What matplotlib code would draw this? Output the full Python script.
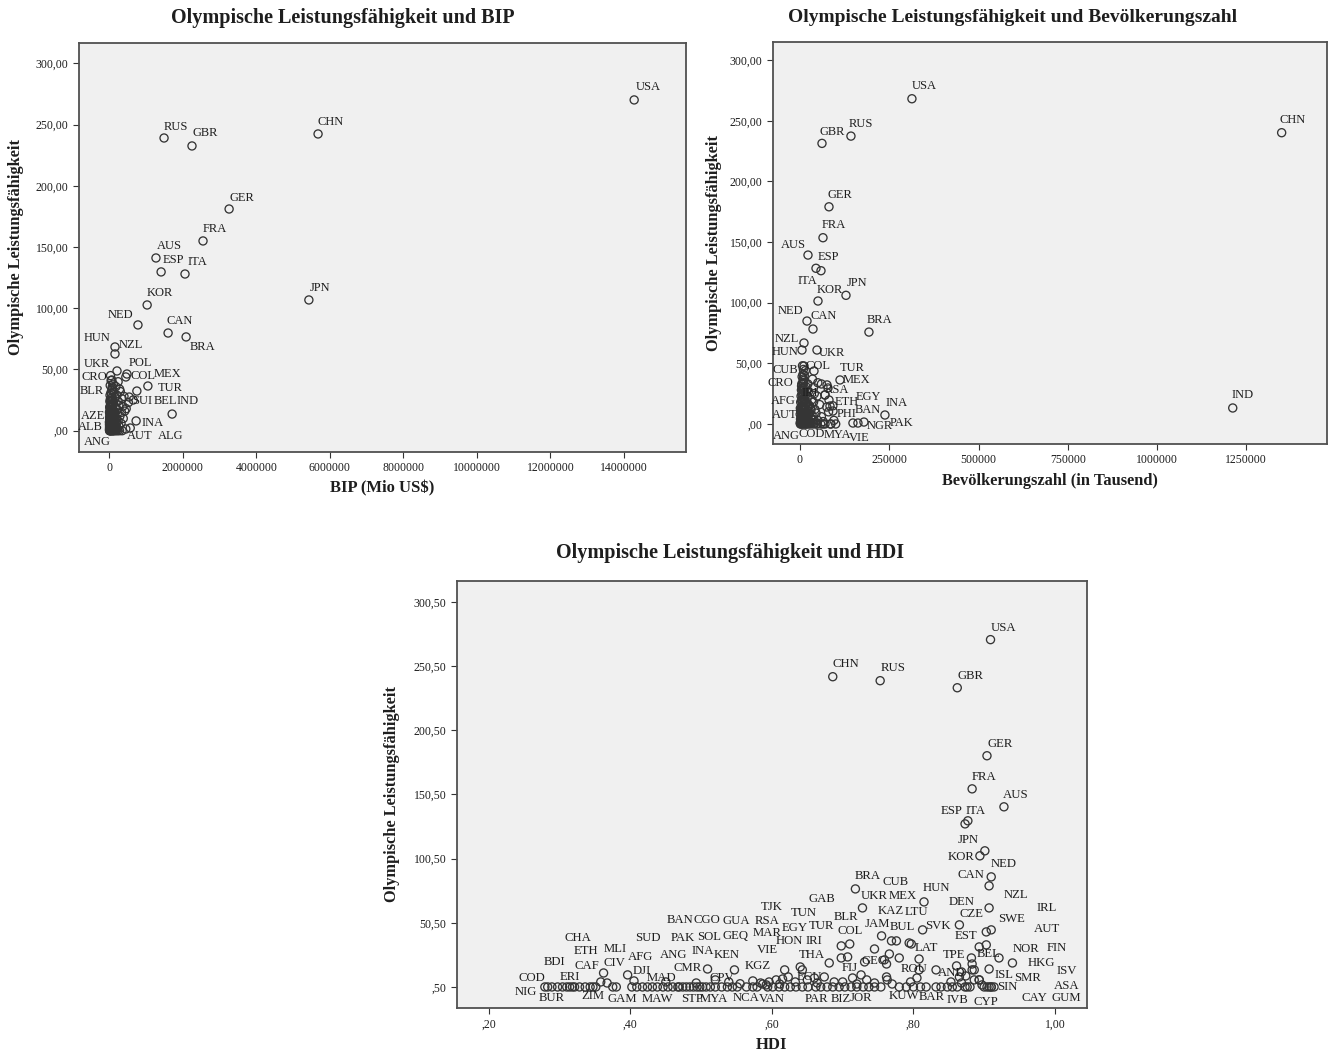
import matplotlib
matplotlib.use("Agg")
import matplotlib.pyplot as plt
from matplotlib.ticker import FuncFormatter, FixedLocator

plt.rcParams['font.family'] = ['Liberation Serif', 'DejaVu Serif']

# ---------------- DATA ----------------
# Panel 1: GDP (Mio US$) vs olympic performance
bip_names = ["USA", "CHN", "RUS", "GBR", "GER", "FRA", "AUS", "ESP", "ITA", "JPN", "KOR", "NED",
             "CAN", "BRA", "HUN", "NZL", "UKR", "POL", "COL", "MEX", "TUR", "CRO", "BLR", "SUI",
             "BEL", "IND", "INA", "AUT", "ALG", "AZE", "ALB", "ANG"]
bip_values = [14280000, 5680000, 1490000, 2250000, 3260000, 2550000, 1270000, 1410000, 2060000,
              5430000, 1030000, 780000, 1600000, 2090000, 155000, 155000, 210000, 480000, 450000,
              1050000, 750000, 70000, 80000, 540000, 650000, 1710000, 730000, 450000, 570000,
              160000, 80000, 100000]
bip_scores = [270.2, 242.4, 239.1, 232.6, 181.1, 155.0, 141.1, 129.7, 128.0, 106.8, 102.7, 86.4,
              79.8, 76.6, 68.4, 62.7, 48.8, 46.3, 43.9, 36.5, 32.4, 41.4, 35.7, 27.5, 25.1, 13.6,
              8.0, 1.4, 2.2, 15.3, 2.2, 0.0]
bip_other_values = [8000, 15000, 25000, 35000, 50000, 70000, 95000, 120000, 150000, 190000, 230000,
                    280000, 350000, 10000, 30000, 55000, 85000, 140000, 210000, 260000, 5000, 22000,
                    45000, 75000, 110000, 170000, 240000, 320000, 12000, 38000, 65000, 100000,
                    135000, 200000, 290000, 380000, 18000, 50000, 90000, 150000, 220000, 330000,
                    420000, 28000, 70000, 120000, 180000, 260000, 370000, 460000, 40000, 95000,
                    160000, 240000, 350000, 60000, 130000, 210000, 300000, 400000, 520000, 80000,
                    180000, 280000, 110000, 240000,
                    4000, 16000, 28000, 40000, 62000, 88000, 110000, 135000, 175000, 205000,
                    7000, 19000, 33000, 48000, 66000, 92000, 125000, 160000, 195000,
                    3000, 14000, 26000, 37000, 52000, 68000, 85000, 105000, 128000, 155000, 190000,
                    9000, 21000, 34000, 46000, 60000, 78000, 96000, 118000, 145000,
                    6000, 18000, 31000, 44000, 58000, 76000, 102000, 130000,
                    11000, 24000, 40000, 55000, 85000, 15000, 32000, 52000, 74000,
                    20000, 44000, 68000, 25000, 50000, 35000]
bip_other_scores = [0, 0, 0, 0, 0, 0, 0, 0, 0, 0, 0, 0, 0, 2, 2, 3, 2, 3, 2, 4, 5, 6, 5, 7, 6, 5, 8,
                    6, 9, 10, 11, 9, 12, 10, 12, 10, 14, 15, 16, 14, 17, 15, 16, 19, 20, 22, 19, 21,
                    20, 18, 24, 25, 27, 24, 26, 30, 31, 29, 32, 28, 23, 34, 36, 34, 38, 40,
                    1, 1, 1, 1, 1, 1, 1, 1, 1, 1,
                    3, 4, 3, 4, 3, 4, 3, 4, 3,
                    7, 8, 7, 8, 7, 8, 7, 8, 7, 8, 7,
                    11, 12, 11, 12, 11, 12, 11, 12, 11,
                    15, 16, 15, 17, 16, 15, 17, 16,
                    19, 20, 21, 19, 22, 24, 26, 24, 27,
                    29, 31, 33, 37, 41, 45]

# Panel 2: population (thousands)
pop_names = ["USA", "CHN", "IND", "RUS", "GBR", "GER", "FRA", "AUS", "ESP", "ITA", "JPN", "KOR",
             "NED", "CAN", "BRA", "NZL", "HUN", "UKR", "CUB", "COL", "TUR", "MEX", "CRO", "RSA",
             "IRI", "EGY", "ETH", "PHI", "INA", "BAN", "NGR", "PAK", "AFG", "AUT", "ANG", "COD",
             "MYA", "VIE"]
pop_values = [313500, 1349000, 1212000, 142700, 61600, 81200, 64400, 22400, 44800, 58800, 128800,
              50400, 19600, 36400, 193100, 11200, 5600, 47600, 11200, 39200, 75600, 112000, 4400,
              78400, 70000, 81200, 84000, 92400, 237900, 148300, 162300, 179100, 30800, 8400,
              16800, 64400, 47600, 86800]
pop_scores = [268.2, 240.2, 13.2, 237.4, 231.4, 179.1, 153.6, 139.3, 128.4, 126.4, 106.1, 101.4,
              84.9, 78.3, 75.8, 66.8, 61.0, 61.0, 47.8, 43.7, 32.2, 36.3, 31.3, 29.7, 23.9, 19.8,
              14.8, 10.7, 7.4, 0.8, 0.8, 1.6, 11.5, 4.9, 0.0, 0.0, 0.0, 0.0]
pop_other_values = [1000, 3000, 6000, 9000, 13000, 18000, 24000, 30000, 38000, 47000, 58000, 70000,
                    85000, 100000, 2000, 7000, 12000, 20000, 28000, 36000, 50000, 65000, 95000,
                    4000, 10000, 16000, 25000, 34000, 45000, 60000, 3000, 8000, 14000, 22000,
                    30000, 42000, 80000, 5000, 11000, 18000, 27000, 38000, 55000, 75000, 6000,
                    12000, 20000, 33000, 48000, 92000, 7000, 14000, 24000, 40000, 70000, 8000,
                    16000, 10000, 22000, 38000, 60000, 9000, 12000, 15000, 35000, 50000,
                    500, 2500, 4500, 7000, 10000, 15000, 21000, 27000, 34000, 42000,
                    1500, 4000, 6500, 9000, 13000, 17000, 23000, 31000,
                    500, 3000, 5500, 8000, 11000, 15000, 19000, 26000,
                    1000, 3500, 6000, 9500, 13000, 17000, 23000,
                    2000, 4500, 7500, 10000, 14000, 20000,
                    3000, 5500, 8500, 11000, 16000,
                    4000, 6500, 9000, 12000,
                    5000, 7500, 10500, 6000, 8500, 9500, 7000]
pop_other_scores = [0, 0, 0, 0, 0, 0, 0, 0, 0, 0, 0, 0, 0, 0, 3, 2, 4, 3, 2, 4, 3, 2, 3, 6, 7, 6,
                    8, 7, 9, 6, 10, 11, 12, 11, 13, 12, 10, 15, 16, 17, 15, 18, 16, 14, 20, 21, 22,
                    20, 23, 15, 25, 26, 27, 25, 24, 30, 31, 34, 33, 30, 33, 37, 40, 44, 37, 34,
                    1, 1, 1, 1, 1, 1, 1, 1, 1, 1,
                    4, 5, 4, 5, 4, 5, 4, 5,
                    8, 9, 8, 9, 8, 9, 8, 9,
                    13, 12, 13, 14, 13, 12, 14,
                    18, 19, 18, 20, 19, 18,
                    23, 24, 23, 25, 24,
                    28, 29, 28, 30,
                    33, 34, 36, 39, 41, 45, 48]

# Panel 3: HDI
hdi_names = ["USA", "CHN", "RUS", "GBR", "GER", "FRA", "AUS", "ESP", "ITA", "JPN", "KOR", "NED",
             "CAN", "BRA", "UKR", "HUN", "NZL", "JAM", "MEX", "BUL", "KAZ", "LTU", "SVK", "DEN",
             "CZE", "EST", "CUB", "LAT", "COL", "BLR", "TUR", "IRI", "THA", "GEO", "FIJ", "ECU",
             "EGY", "HON", "VIE", "MAR", "RSA", "TUN", "GAB", "TJK", "KGZ", "GEQ", "GUA", "KEN",
             "INA", "CIV", "CAF", "AFG", "NIG", "BUR", "COD", "BDI", "ERI", "CHA", "ETH", "ZIM",
             "MLI", "GAM", "DJI", "SUD", "MAW", "MAD", "ANG", "BAN", "PAK", "CMR", "STP", "CGO",
             "SOL", "MYA", "CPV", "NCA", "VAN", "PAR", "BIZ", "JOR", "KUW", "ROU", "BAR", "AND",
             "TPE", "BEL", "IVB", "CYP", "ISL", "SIN", "NOR", "SWE", "HKG", "FIN", "IRL", "AUT",
             "ISV", "SMR", "ASA", "CAY", "GUM"]
hdi_values = [0.909, 0.686, 0.753, 0.862, 0.904, 0.883, 0.928, 0.873, 0.877, 0.901, 0.894, 0.910,
              0.907, 0.718, 0.728, 0.815, 0.907, 0.755, 0.769, 0.776, 0.794, 0.797, 0.813, 0.865,
              0.903, 0.893, 0.745, 0.808, 0.710, 0.698, 0.681, 0.707, 0.698, 0.731, 0.714, 0.640,
              0.643, 0.618, 0.606, 0.615, 0.623, 0.660, 0.674, 0.584, 0.587, 0.573, 0.537, 0.547,
              0.509, 0.362, 0.358, 0.396, 0.279, 0.289, 0.297, 0.304, 0.314, 0.321, 0.328, 0.343,
              0.351, 0.375, 0.409, 0.417, 0.431, 0.446, 0.453, 0.460, 0.467, 0.474, 0.484, 0.494,
              0.502, 0.520, 0.529, 0.564, 0.594, 0.662, 0.695, 0.729, 0.780, 0.832, 0.832, 0.865,
              0.882, 0.883, 0.862, 0.904, 0.907, 0.897, 0.940, 0.893, 0.886, 0.921, 0.910, 0.903,
              0.910, 0.886, 0.914, 0.900, 0.907]
hdi_scores = [271.2, 242.3, 239.2, 233.7, 180.7, 154.9, 140.9, 127.6, 130.0, 106.6, 102.7, 86.3,
              79.3, 76.9, 62.1, 66.8, 62.1, 40.3, 36.4, 36.4, 34.8, 34.0, 45.0, 48.9, 43.4, 31.7,
              30.1, 22.3, 34.0, 32.5, 19.2, 23.9, 23.1, 20.0, 7.5, 16.1, 13.8, 13.8, 6.0, 6.7, 8.3,
              7.5, 8.3, 3.6, 2.8, 5.2, 0.5, 13.8, 14.5, 11.4, 4.4, 9.9, 0.5, 0.5, 0.5, 0.5, 0.5,
              0.5, 0.5, 0.5, 0.5, 0.5, 0.5, 0.5, 0.5, 0.5, 0.5, 0.5, 0.5, 0.5, 0.5, 0.5, 0.5, 0.5,
              0.5, 0.5, 0.5, 0.5, 0.5, 0.5, 0.5, 13.8, 0.5, 8.3, 23.1, 18.4, 0.5, 0.5, 14.5, 2.1,
              19.2, 6.0, 13.8, 23.1, 45.0, 33.3, 0.5, 6.0, 0.5, 0.5, 0.5]
hdi_other_values = [0.766, 0.780, 0.759, 0.762, 0.726, 0.734, 0.762, 0.763, 0.839, 0.868, 0.883,
                    0.893, 0.910, 0.861, 0.808, 0.688, 0.592, 0.573,
                    0.283, 0.310, 0.318, 0.336, 0.347, 0.380, 0.402, 0.424, 0.438, 0.469, 0.479,
                    0.489, 0.498, 0.507, 0.513, 0.544, 0.551, 0.579, 0.601, 0.610, 0.618, 0.626,
                    0.634, 0.643, 0.651, 0.669, 0.678, 0.686, 0.703, 0.712, 0.720, 0.737, 0.745,
                    0.754, 0.790, 0.800, 0.810, 0.818, 0.848, 0.855, 0.873, 0.876, 0.880,
                    0.555, 0.596, 0.611, 0.633, 0.650, 0.664, 0.700, 0.720, 0.745, 0.770, 0.796,
                    0.805, 0.853, 0.868, 0.874, 0.367, 0.405, 0.450, 0.493, 0.520, 0.539]
hdi_other_scores = [26.2, 23.1, 21.6, 18.4, 9.9, 6.0, 8.3, 6.0, 0.5, 12.2, 13.8, 6.0, 0.5, 16.9,
                    13.8, 4.4, 2.1, 0.5,
                    0.5, 0.5, 0.5, 0.5, 0.5, 0.5, 0.5, 0.5, 0.5, 0.5, 0.5, 0.5, 0.5, 0.5, 0.5, 0.5,
                    0.5, 0.5, 0.5, 0.5, 0.5, 0.5, 0.5, 0.5, 0.5, 0.5, 0.5, 0.5, 0.5, 0.5, 0.5, 0.5,
                    0.5, 0.5, 0.5, 0.5, 0.5, 0.5, 0.5, 0.5, 0.5, 0.5, 0.5,
                    3.0, 4.4, 2.8, 4.4, 6.0, 3.6, 4.4, 2.8, 3.6, 2.8, 4.4, 7.5, 4.4, 3.6, 9.1, 3.6,
                    5.2, 4.4, 3.6, 6.0, 4.4]

# ---------------- LAYOUT (label offsets in pixels) ----------------
bip_offsets = {"USA": (14, 13), "CHN": (13, 12), "RUS": (12, 11), "GBR": (13, 13), "GER": (13, 11),
               "FRA": (12, 12), "AUS": (13, 12), "ESP": (12, 12), "ITA": (12, 12), "JPN": (11, 12),
               "KOR": (13, 12), "NED": (-17, 10), "CAN": (12, 12), "BRA": (16, -10), "HUN": (-18, 9),
               "NZL": (16, 9), "UKR": (-20, 7), "POL": (13, 11), "COL": (17, 1), "MEX": (20, 12),
               "TUR": (33, 3), "CRO": (-17, 3), "BLR": (-20, -4), "SUI": (13, -4), "BEL": (32, -1),
               "IND": (15, 13), "INA": (16, -2), "AUT": (14, -7), "ALG": (40, -8), "AZE": (-22, -4),
               "ALB": (-22, 1), "ANG": (-16, -11)}
pop_offsets = {"USA": (12, 13), "CHN": (11, 13), "IND": (10, 13), "RUS": (10, 12), "GBR": (10, 11),
               "GER": (11, 12), "FRA": (11, 13), "AUS": (-15, 10), "ESP": (12, 11), "ITA": (-14, -10),
               "JPN": (11, 12), "KOR": (12, 11), "NED": (-17, 10), "CAN": (11, 13), "BRA": (11, 12),
               "NZL": (-17, 4), "HUN": (-17, -2), "UKR": (15, -3), "CUB": (-19, -4), "COL": (4, 5),
               "TUR": (25, 17), "MEX": (17, 0), "CRO": (-21, 3), "RSA": (9, -2), "IRI": (-15, 2),
               "EGY": (39, 3), "ETH": (17, 4), "PHI": (14, -3), "INA": (12, 12), "BAN": (15, 13),
               "NGR": (22, -3), "PAK": (38, -1), "AFG": (-28, 9), "AUT": (-18, 3), "ANG": (-20, -12),
               "COD": (-11, -10), "MYA": (20, -11), "VIE": (28, -14)}
hdi_offsets = {"USA": (13, 12), "CHN": (13, 13), "RUS": (13, 13), "GBR": (13, 12), "GER": (13, 12),
               "FRA": (12, 12), "AUS": (12, 12), "ESP": (-13, 13), "ITA": (8, 10), "JPN": (-17, 11),
               "KOR": (-19, -1), "NED": (12, 13), "CAN": (-18, 11), "BRA": (12, 13), "UKR": (12, 12),
               "HUN": (12, 14), "NZL": (27, 13), "JAM": (-4, 12), "MEX": (11, 45), "BUL": (6, 14),
               "KAZ": (-18, 32), "LTU": (5, 32), "SVK": (15, 4), "DEN": (2, 23), "CZE": (-15, 18),
               "EST": (-13, 11), "CUB": (21, 67), "LAT": (7, 11), "COL": (0, 13), "BLR": (5, 29),
               "TUR": (-8, 37), "IRI": (-34, 16), "THA": (-29, 3), "GEO": (10, 1), "FIJ": (-3, 10),
               "ECU": (9, -10), "EGY": (-8, 42), "HON": (5, 29), "VIE": (-9, 30), "MAR": (-15, 46),
               "RSA": (-21, 56), "TUN": (-10, 65), "GAB": (-2, 78), "TJK": (11, 76), "KGZ": (-5, 18),
               "GEQ": (-17, 45), "GUA": (9, 66), "KEN": (-8, 15), "INA": (-5, 18), "CIV": (11, 10),
               "CAF": (-14, 16), "AFG": (13, 18), "NIG": (-19, -5), "BUR": (0, -11), "COD": (-26, 9),
               "BDI": (-8, 25), "ERI": (0, 10), "CHA": (3, 49), "ETH": (6, 36), "ZIM": (3, -9),
               "MLI": (19, 38), "GAM": (10, -12), "DJI": (5, 16), "SUD": (5, 49), "MAW": (5, -12),
               "MAD": (-1, 9), "ANG": (6, 32), "BAN": (7, 67), "PAK": (5, 49), "CMR": (5, 19),
               "STP": (2, -12), "CGO": (10, 67), "SOL": (7, 50), "MYA": (-1, -12), "CPV": (0, 9),
               "NCA": (0, -11), "VAN": (4, -12), "PAR": (1, -12), "BIZ": (2, -12), "JOR": (-2, -11),
               "KUW": (5, -9), "ROU": (-22, 1), "BAR": (-4, -10), "AND": (-8, 4), "TPE": (-17, 3),
               "BEL": (17, 10), "IVB": (0, -13), "CYP": (-1, -15), "ISL": (15, -6), "SIN": (25, -2),
               "NOR": (14, 14), "SWE": (32, 61), "HKG": (67, 7), "FIN": (58, 10), "IRL": (56, 22),
               "AUT": (61, 16), "ISV": (76, 16), "SMR": (53, 2), "ASA": (73, 1), "CAY": (50, -11),
               "GUM": (77, -11)}

W, H = 1329, 1055
fig = plt.figure(figsize=(W / 100, H / 100), dpi=100)
fig.patch.set_facecolor('white')


def ax_at(left, top, right, bottom):
    return fig.add_axes([left / W, 1 - bottom / H, (right - left) / W, (bottom - top) / H])


def comma_fmt(dec):
    def f(v, pos):
        s = f"{v:.{dec}f}".replace('.', ',')
        if s.startswith('0,'):
            s = s[1:]
        return s
    return FuncFormatter(f)


EDGE = '#353535'
TXT = '#1e1e1e'


def panel(ax, xs, ys, names, ox, oy, offsets, label_size):
    ax.set_facecolor('#f0f0f0')
    for sp in ax.spines.values():
        sp.set_color('#505050')
        sp.set_linewidth(1.3)
    ax.scatter(list(ox) + list(xs), list(oy) + list(ys), s=34, facecolors='none',
               edgecolors=EDGE, linewidths=0.95, zorder=3)
    for n, x, y in zip(names, xs, ys):
        dx, dy = offsets.get(n, (12, 12))
        ax.annotate(n, (x, y), xytext=(dx, dy), textcoords='offset pixels',
                    ha='center', va='center', fontsize=label_size, color=TXT, zorder=4)
    ax.tick_params(axis='both', direction='out', length=4, width=0.8, colors='#333333',
                   labelsize=8.5, labelcolor=TXT, top=False, right=False)


# Panel 1
ax1 = ax_at(79, 43, 686, 452)
panel(ax1, bip_values, bip_scores, bip_names, bip_other_values, bip_other_scores, bip_offsets, 9)
ax1.set_xlim(-824000, 15690000)
ax1.set_ylim(-17.4, 316.7)
ax1.xaxis.set_major_locator(FixedLocator([0, 2000000, 4000000, 6000000, 8000000, 10000000,
                                          12000000, 14000000]))
ax1.xaxis.set_major_formatter(FuncFormatter(lambda v, p: f"{int(round(v))}"))
ax1.yaxis.set_major_locator(FixedLocator([0, 50, 100, 150, 200, 250, 300]))
ax1.yaxis.set_major_formatter(comma_fmt(2))

# Panel 2
ax2 = ax_at(773, 42, 1327, 444)
panel(ax2, pop_values, pop_scores, pop_names, pop_other_values, pop_other_scores, pop_offsets, 9)
ax2.set_xlim(-75600, 1476000)
ax2.set_ylim(-16.5, 315.0)
ax2.xaxis.set_major_locator(FixedLocator([0, 250000, 500000, 750000, 1000000, 1250000]))
ax2.xaxis.set_major_formatter(FuncFormatter(lambda v, p: f"{int(round(v))}"))
ax2.yaxis.set_major_locator(FixedLocator([0, 50, 100, 150, 200, 250, 300]))
ax2.yaxis.set_major_formatter(comma_fmt(2))

# Panel 3
ax3 = ax_at(457, 581, 1087, 1008)
panel(ax3, hdi_values, hdi_scores, hdi_names, hdi_other_values, hdi_other_scores, hdi_offsets, 9.2)
ax3.set_xlim(0.1548, 1.0454)
ax3.set_ylim(-15.9, 316.9)
ax3.xaxis.set_major_locator(FixedLocator([0.2, 0.4, 0.6, 0.8, 1.0]))
ax3.xaxis.set_major_formatter(comma_fmt(2))
ax3.yaxis.set_major_locator(FixedLocator([0.5, 50.5, 100.5, 150.5, 200.5, 250.5, 300.5]))
ax3.yaxis.set_major_formatter(comma_fmt(2))


def ftext(x, y, s, **kw):
    fig.text(x / W, 1 - y / H, s, ha='center', va='center', color=TXT, **kw)


ftext(343, 18, "Olympische Leistungsfähigkeit und BIP", fontsize=14.5, fontweight='bold')
ftext(1013, 18, "Olympische Leistungsfähigkeit und Bevölkerungszahl", fontsize=14, fontweight='bold')
ftext(730, 553, "Olympische Leistungsfähigkeit und HDI", fontsize=14.5, fontweight='bold')

ftext(382, 488, "BIP (Mio US$)", fontsize=12, fontweight='bold')
ftext(1050, 481, "Bevölkerungszahl (in Tausend)", fontsize=11.8, fontweight='bold')
ftext(772, 1045, "HDI", fontsize=12, fontweight='bold')

ftext(16, 247, "Olympische Leistungsfähigkeit", fontsize=11.8, fontweight='bold', rotation=90)
ftext(714, 243, "Olympische Leistungsfähigkeit", fontsize=11.8, fontweight='bold', rotation=90)
ftext(392, 794, "Olympische Leistungsfähigkeit", fontsize=11.8, fontweight='bold', rotation=90)

fig.savefig("out.png", dpi=100)
